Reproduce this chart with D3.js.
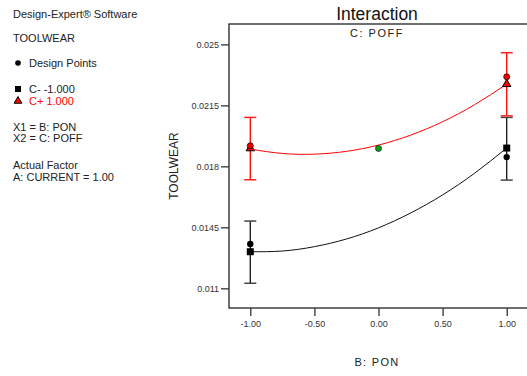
<!DOCTYPE html>
<html>
<head>
<meta charset="utf-8">
<script src="https://cdn.jsdelivr.net/npm/d3@7"></script>
<style>
  body { margin: 0; background: #fff; }
  svg { display: block; font-family: "Liberation Sans", Arial, sans-serif; }
</style>
</head>
<body>
<svg id="chart" width="527" height="376"></svg>
<script>
// factor levels and ticks
const xTicks = [-1, -0.5, 0, 0.5, 1];
const yTicks = [0.011, 0.0145, 0.018, 0.0215, 0.025];

// predicted curves
const curveX = [-1, -0.75, -0.5, -0.25, 0, 0.25, 0.5, 0.75, 1];
const cMinusCurve = [0.0131, 0.01314, 0.01339, 0.01383, 0.01447, 0.01532, 0.01636, 0.01761, 0.01905];
const cPlusCurve = [0.01899, 0.01874, 0.01870, 0.01886, 0.01922, 0.01979, 0.02056, 0.02154, 0.02272];

// predicted means at the ends + LSD bars
const endX = [-1, 1];
const cMinusMean = [0.0131, 0.01905];
const cMinusLow = [0.01129, 0.01721];
const cMinusHigh = [0.01486, 0.02081];
const cPlusMean = [0.01903, 0.02272];
const cPlusLow = [0.01723, 0.02090];
const cPlusHigh = [0.02081, 0.02452];

// design points
const cMinusPointsX = [-1, 1];
const cMinusPoints = [0.01354, 0.01853];
const cPlusPointsX = [-1, 1];
const cPlusPoints = [0.01918, 0.02314];
const centerPointX = [0];
const centerPoint = [0.01903];

const legendLines = [
  {t: "Design-Expert\u00ae Software", x: 13, y: 18},
  {t: "TOOLWEAR", x: 13, y: 42},
  {t: "Design Points", x: 29, y: 67},
  {t: "C- -1.000", x: 29, y: 93},
  {t: "C+ 1.000", x: 29, y: 105, c: "#ff0000"},
  {t: "X1 = B: PON", x: 13, y: 131},
  {t: "X2 = C: POFF", x: 13, y: 142},
  {t: "Actual Factor", x: 13, y: 169},
  {t: "A: CURRENT = 1.00", x: 13, y: 181}
];

const svg = d3.select("#chart");
const plotLeft = 229, plotRight = 528, plotTop = 24, plotBottom = 308;

const x = d3.scaleLinear().domain([-1.166, 1.166]).range([plotLeft, plotRight]);
const y = d3.scaleLinear().domain([0.00987, 0.02617]).range([plotBottom, plotTop]);

// frame
svg.append("rect")
  .attr("x", plotLeft).attr("y", plotTop)
  .attr("width", plotRight - plotLeft).attr("height", plotBottom - plotTop)
  .attr("fill", "none").attr("stroke", "#222").attr("stroke-width", 1.3);

// axes
const yAxis = svg.append("g")
  .attr("transform", `translate(${plotLeft},0)`)
  .call(d3.axisLeft(y).tickValues(yTicks).tickSize(8).tickPadding(2).tickFormat(d3.format("")));
const xAxis = svg.append("g")
  .attr("transform", `translate(0,${plotBottom})`)
  .call(d3.axisBottom(x).tickValues(xTicks).tickSize(8).tickPadding(5).tickFormat(d3.format(".2f")));
[xAxis, yAxis].forEach(a => {
  a.select(".domain").remove();
  a.selectAll("line").attr("stroke", "#333").attr("stroke-width", 1.3);
  a.selectAll("text").attr("fill", "#333").style("font-size", "9px")
    .style("font-family", "'Liberation Sans', Arial, sans-serif");
});
xAxis.selectAll("text").text(d => d3.format(".2f")(d).replace("\u2212", "-"));

// titles
svg.append("text").attr("x", 377).attr("y", 19.5).attr("text-anchor", "middle")
  .style("font-size", "17.5px").attr("fill", "#111").text("Interaction");
svg.append("text").attr("x", 377).attr("y", 37.3).attr("text-anchor", "middle")
  .style("font-size", "11px").style("letter-spacing", "1.5px").attr("fill", "#222").text("C: POFF");
svg.append("text").attr("x", 377).attr("y", 365.7).attr("text-anchor", "middle")
  .style("font-size", "11px").style("letter-spacing", "1.3px").attr("fill", "#222").text("B: PON");
svg.append("text").attr("transform", "translate(178.3,166) rotate(-90)").attr("text-anchor", "middle")
  .style("font-size", "12px").attr("fill", "#222").text("TOOLWEAR");

// legend
svg.append("g").selectAll("text").data(legendLines).enter().append("text")
  .attr("x", d => d.x).attr("y", d => d.y)
  .attr("fill", d => d.c || "#222")
  .style("font-size", "11px")
  .text(d => d.t);
svg.append("circle").attr("cx", 18).attr("cy", 63).attr("r", 2.8).attr("fill", "#000");
svg.append("rect").attr("x", 15).attr("y", 86).attr("width", 6).attr("height", 6).attr("fill", "#000");
svg.append("path").attr("transform", "translate(18,101)")
  .attr("d", d3.symbol(d3.symbolTriangle, 26)()).attr("fill", "#ff0000").attr("stroke", "#000").attr("stroke-width", 1);

// curves
const line = d3.line().x(d => x(d[0])).y(d => y(d[1])).curve(d3.curveNatural);
svg.append("path").datum(curveX.map((v, i) => [v, cMinusCurve[i]]))
  .attr("d", line).attr("fill", "none").attr("stroke", "#111").attr("stroke-width", 1);
svg.append("path").datum(curveX.map((v, i) => [v, cPlusCurve[i]]))
  .attr("d", line).attr("fill", "none").attr("stroke", "#ff0000").attr("stroke-width", 1);

// error bars
function errorBars(lows, highs, color, capColor) {
  const g = svg.append("g");
  endX.forEach((v, i) => {
    g.append("line").attr("x1", x(v)).attr("x2", x(v))
      .attr("y1", y(lows[i])).attr("y2", y(highs[i]))
      .attr("stroke", color).attr("stroke-width", 1.3);
    [lows[i], highs[i]].forEach(e => {
      g.append("line").attr("x1", x(v) - 6).attr("x2", x(v) + 6)
        .attr("y1", y(e)).attr("y2", y(e))
        .attr("stroke", capColor).attr("stroke-width", 1.5);
    });
  });
}
errorBars(cMinusLow, cMinusHigh, "#111", "#444");
errorBars(cPlusLow, cPlusHigh, "#ff0000", "#ff2020");

// predicted means
svg.append("g").selectAll("rect").data(endX).enter().append("rect")
  .attr("x", (d) => x(d) - 3.5).attr("y", (d, i) => y(cMinusMean[i]) - 3.5)
  .attr("width", 7).attr("height", 7).attr("fill", "#000");
svg.append("g").selectAll("path").data(endX).enter().append("path")
  .attr("transform", (d, i) => `translate(${x(d)},${y(cPlusMean[i])})`)
  .attr("d", d3.symbol(d3.symbolTriangle, 30)())
  .attr("fill", "#ff0000").attr("stroke", "#000").attr("stroke-width", 1);

// design points
svg.append("g").selectAll("circle").data(cMinusPointsX).enter().append("circle")
  .attr("cx", d => x(d)).attr("cy", (d, i) => y(cMinusPoints[i])).attr("r", 3.2).attr("fill", "#000");
svg.append("g").selectAll("circle").data(cPlusPointsX).enter().append("circle")
  .attr("cx", d => x(d)).attr("cy", (d, i) => y(cPlusPoints[i])).attr("r", 3)
  .attr("fill", "#ee0000").attr("stroke", "#300").attr("stroke-width", 0.8);
svg.append("g").selectAll("circle").data(centerPointX).enter().append("circle")
  .attr("cx", d => x(d)).attr("cy", (d, i) => y(centerPoint[i])).attr("r", 3)
  .attr("fill", "#119911").attr("stroke", "#032").attr("stroke-width", 0.8);
</script>
</body>
</html>
